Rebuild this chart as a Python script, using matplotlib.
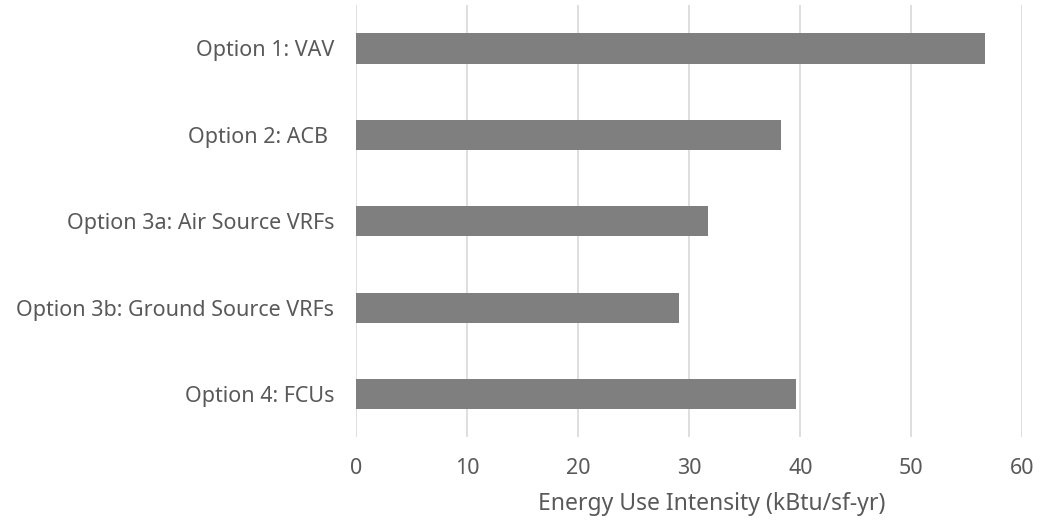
import matplotlib.pyplot as plt

# EUI by HVAC option
options = ["Option 1: VAV", "Option 2: ACB ", "Option 3a: Air Source VRFs",
           "Option 3b: Ground Source VRFs", "Option 4: FCUs"]
eui = [56.6, 38.3, 31.7, 29.1, 39.6]
xticks = [0, 10, 20, 30, 40, 50, 60]

plt.rcParams['font.family'] = ['Noto Sans', 'DejaVu Sans']

fig = plt.figure(figsize=(10.54, 5.23), dpi=100)
ax = fig.add_axes([0.338, 0.164, 0.632, 0.826])

ypos = list(range(len(options)))
ax.barh(ypos, eui, height=0.35, color='#7f7f7f', zorder=3)
ax.set_yticks(ypos)
ax.set_yticklabels(options)
ax.set_ylim(len(options) - 0.5, -0.5)

ax.set_xlim(0, 60)
ax.set_xticks(xticks)
ax.grid(axis='x', color='#d9d9d9', linewidth=1.2, zorder=0)
ax.set_xlabel("Energy Use Intensity (kBtu/sf-yr)", fontsize=16.5, color='#595959',
              labelpad=9, x=0.533)

ax.tick_params(axis='y', length=0, pad=16, labelsize=15.5, labelcolor='#595959')
ax.tick_params(axis='x', length=0, pad=15, labelsize=15.5, labelcolor='#595959')
for s in ax.spines.values():
    s.set_visible(False)

fig.savefig('out.png', dpi=100)
